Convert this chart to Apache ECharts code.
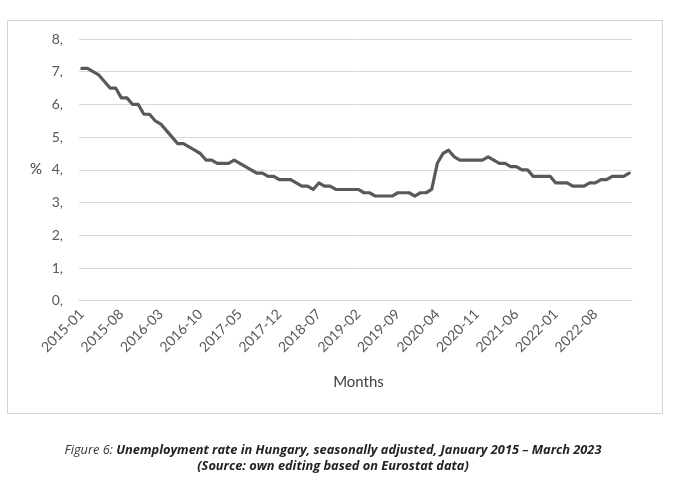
<!DOCTYPE html>
<html><head><meta charset="utf-8">
<script src="https://cdn.jsdelivr.net/npm/echarts@6/dist/echarts.min.js"></script>
<style>html,body{margin:0;padding:0;background:#fff}#c{width:676px;height:484px}</style>
</head><body><div id="c"></div>
<script>
const months = [
"2015-01","2015-02","2015-03","2015-04","2015-05","2015-06","2015-07","2015-08","2015-09","2015-10","2015-11","2015-12",
"2016-01","2016-02","2016-03","2016-04","2016-05","2016-06","2016-07","2016-08","2016-09","2016-10","2016-11","2016-12",
"2017-01","2017-02","2017-03","2017-04","2017-05","2017-06","2017-07","2017-08","2017-09","2017-10","2017-11","2017-12",
"2018-01","2018-02","2018-03","2018-04","2018-05","2018-06","2018-07","2018-08","2018-09","2018-10","2018-11","2018-12",
"2019-01","2019-02","2019-03","2019-04","2019-05","2019-06","2019-07","2019-08","2019-09","2019-10","2019-11","2019-12",
"2020-01","2020-02","2020-03","2020-04","2020-05","2020-06","2020-07","2020-08","2020-09","2020-10","2020-11","2020-12",
"2021-01","2021-02","2021-03","2021-04","2021-05","2021-06","2021-07","2021-08","2021-09","2021-10","2021-11","2021-12",
"2022-01","2022-02","2022-03","2022-04","2022-05","2022-06","2022-07","2022-08","2022-09","2022-10","2022-11","2022-12",
"2023-01","2023-02"
];
const unemploymentRate = [
7.1,7.1,7.0,6.9,6.7,6.5,6.5,6.2,6.2,6.0,6.0,5.7,
5.7,5.5,5.4,5.2,5.0,4.8,4.8,4.7,4.6,4.5,4.3,4.3,
4.2,4.2,4.2,4.3,4.2,4.1,4.0,3.9,3.9,3.8,3.8,3.7,
3.7,3.7,3.6,3.5,3.5,3.4,3.6,3.5,3.5,3.4,3.4,3.4,
3.4,3.4,3.3,3.3,3.2,3.2,3.2,3.2,3.3,3.3,3.3,3.2,
3.3,3.3,3.4,4.2,4.5,4.6,4.4,4.3,4.3,4.3,4.3,4.3,
4.4,4.3,4.2,4.2,4.1,4.1,4.0,4.0,3.8,3.8,3.8,3.8,
3.6,3.6,3.6,3.5,3.5,3.5,3.6,3.6,3.7,3.7,3.8,3.8,
3.8,3.9
];
const yTicks = [0,1,2,3,4,5,6,7,8];
const yAxisName = "%";
const xAxisName = "Months";
const captionLead = "Figure 6: ";
const captionMain = "Unemployment rate in Hungary, seasonally adjusted, January 2015 – March 2023";
const captionSource = "(Source: own editing based on Eurostat data)";

const chart = echarts.init(document.getElementById('c'), null, {renderer:'canvas'});
const fontAxis = "Lato, 'Open Sans', sans-serif";
const fontCap = "'Open Sans', sans-serif";
chart.setOption({
  animation:false,
  backgroundColor:'#fff',
  grid:{left:79, right:44, top:39, bottom:183.3, containLabel:false},
  xAxis:{
    type:'category', data:months, boundaryGap:true,
    axisLine:{show:true, lineStyle:{color:'#d9d9d9', width:1}},
    axisTick:{show:false},
    axisLabel:{interval:6, rotate:45, color:'#595959', fontSize:14, fontFamily:fontAxis, margin:11},
    name:xAxisName, nameLocation:'middle', nameGap:74,
    nameTextStyle:{color:'#404040', fontSize:15, fontFamily:fontAxis, padding:[0,0,0,6]}
  },
  yAxis:{
    type:'value', min:yTicks[0], max:yTicks[yTicks.length-1], interval:1,
    axisLine:{show:false}, axisTick:{show:false},
    splitLine:{lineStyle:{color:'#d9d9d9', width:1}},
    axisLabel:{color:'#595959', fontSize:14, fontFamily:fontAxis, margin:16, formatter:v=>v+','}
  },
  graphic:[
    {type:'rect', shape:{x:7.5, y:20.5, width:655, height:393}, style:{fill:'none', stroke:'#d4d4d4', lineWidth:1}, z:-1},
    {type:'text', left:30, top:162, style:{text:yAxisName, fill:'#404040', font:"15px "+fontAxis}},
    {type:'text', x:333, y:450, style:{
      rich:{a:{fontStyle:'italic', fontSize:12.8, fill:'#333', fontFamily:fontCap},
            b:{fontStyle:'italic', fontWeight:'bold', fontSize:12.8, fill:'#222', fontFamily:fontCap}},
      text:'{a|'+captionLead+'}{b|'+captionMain+'}', align:'center', verticalAlign:'middle'}},
    {type:'text', x:333, y:466, style:{text:captionSource, fontStyle:'italic', fontWeight:'bold', fontSize:12.8, fill:'#222', fontFamily:fontCap, align:'center', verticalAlign:'middle'}}
  ],
  series:[{
    type:'line', data:unemploymentRate, symbol:'none',
    lineStyle:{color:'#595959', width:3.2, join:'round', cap:'round'}
  }]
});
</script></body></html>
